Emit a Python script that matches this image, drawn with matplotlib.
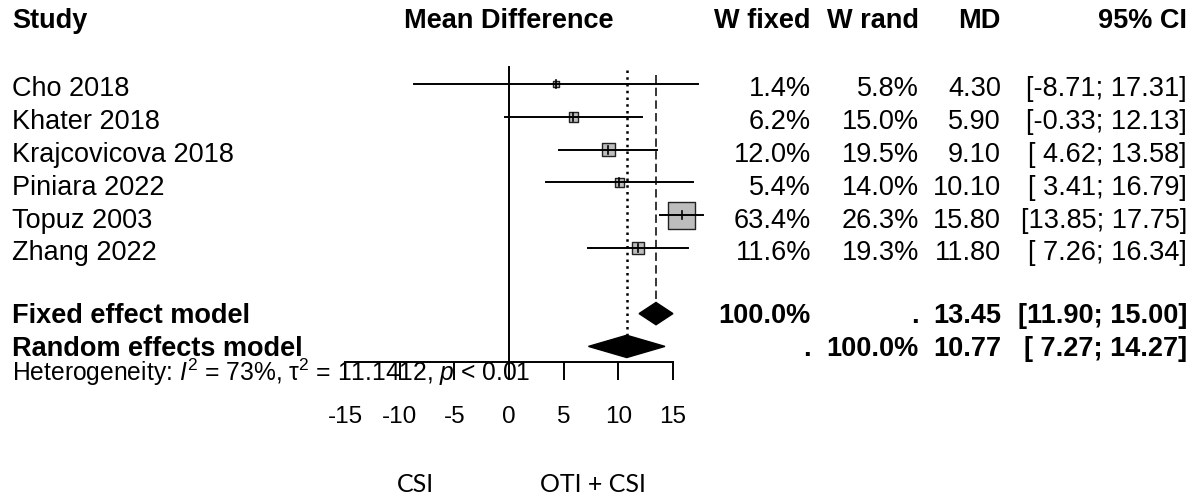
import numpy as np
import matplotlib
matplotlib.use("Agg")
import matplotlib.pyplot as plt
from matplotlib import transforms

# study level results
studies = ["Cho 2018", "Khater 2018", "Krajcovicova 2018", "Piniara 2022", "Topuz 2003", "Zhang 2022"]
md = [4.30, 5.90, 9.10, 10.10, 15.80, 11.80]
ci_lo = [-8.71, -0.33, 4.62, 3.41, 13.85, 7.26]
ci_hi = [17.31, 12.13, 13.58, 16.79, 17.75, 16.34]
w_fixed = [1.4, 6.2, 12.0, 5.4, 63.4, 11.6]
w_rand = [5.8, 15.0, 19.5, 14.0, 26.3, 19.3]

# pooled estimates
fixed_md, fixed_lo, fixed_hi = 13.45, 11.90, 15.00
rand_md, rand_lo, rand_hi = 10.77, 7.27, 14.27
i2, tau2, pval = 73, 11.1412, 0.01

ticks = [-15, -10, -5, 0, 5, 10, 15]
headers = ["W fixed", "W rand", "MD", "95% CI"]
side_labels = ["CSI", "OTI + CSI"]

W, H = 1198, 497
plt.rcParams['font.family'] = ['Liberation Sans', 'DejaVu Sans']
plt.rcParams['mathtext.fontset'] = 'custom'
plt.rcParams['mathtext.rm'] = 'Liberation Sans'
plt.rcParams['mathtext.it'] = 'Liberation Sans:italic'

fig = plt.figure(figsize=(W / 100, H / 100), dpi=100)
ax = fig.add_axes([0, 0, 1, 1])
ax.axis('off')
# 0 sits at x=509px, 10.93 px per unit; rows are 32.8 px apart, first row at 84px
ax.set_xlim(-509 / 10.93, (W - 509) / 10.93)
ax.set_ylim((H - 84) / 32.8, -84 / 32.8)
tr = transforms.blended_transform_factory(fig.transFigure, ax.transData)

def px(x):
    return x / W

fs = 19.5
rows = np.arange(len(studies))
fixed_row = len(studies) + 1
rand_row = fixed_row + 1
head_y = -1.707
col_right = [px(811), px(919), px(1001), px(1187)]

# header
ax.text(px(12), head_y, "Study", transform=tr, fontsize=fs, fontweight='bold', va='baseline')
ax.text(0, head_y, "Mean Difference", fontsize=fs, fontweight='bold', ha='center', va='baseline')
for x, h in zip(col_right, headers):
    ax.text(x, head_y, h, transform=tr, fontsize=fs, fontweight='bold', ha='right', va='baseline')

# studies, square area follows the fixed effect weight
sides = 25.5 * np.sqrt(np.array(w_fixed) / max(w_fixed)) + 1.5
ax.scatter(md, rows, s=(sides * 0.72) ** 2, marker='s', facecolor='#bdbdbd',
           edgecolor='#222222', linewidth=1.0, zorder=2)
for r, m, lo, hi, wf, wr, name in zip(rows, md, ci_lo, ci_hi, w_fixed, w_rand, studies):
    ax.plot([lo, hi], [r, r], color='black', lw=1.4, zorder=3)
    ax.plot([m, m], [r - 0.12, r + 0.12], color='black', lw=1.2, zorder=3)
    ty = r + 0.38
    ax.text(px(12), ty, name, transform=tr, fontsize=fs, va='baseline')
    vals = [f"{wf:.1f}%", f"{wr:.1f}%", f"{m:.2f}", f"[{lo:5.2f}; {hi:5.2f}]"]
    for x, v in zip(col_right, vals):
        ax.text(x, ty, v, transform=tr, fontsize=fs, ha='right', va='baseline')

# pooled diamonds
dh = 0.34
for r, m, lo, hi in [(fixed_row, fixed_md, fixed_lo, fixed_hi), (rand_row, rand_md, rand_lo, rand_hi)]:
    ax.fill([lo, m, hi, m], [r, r - dh, r, r + dh], color='black', zorder=3)

summaries = [
    (fixed_row, "Fixed effect model", ["100.0%", ".", f"{fixed_md:.2f}", f"[{fixed_lo:5.2f}; {fixed_hi:5.2f}]"]),
    (rand_row, "Random effects model", [".", "100.0%", f"{rand_md:.2f}", f"[{rand_lo:5.2f}; {rand_hi:5.2f}]"]),
]
for r, name, vals in summaries:
    ty = r + 0.29
    ax.text(px(12), ty, name, transform=tr, fontsize=fs, fontweight='bold', va='baseline')
    for x, v in zip(col_right, vals):
        ax.text(x, ty, v, transform=tr, fontsize=fs, fontweight='bold', ha='right', va='baseline')

# reference lines
axis_y = 8.48
ax.plot([0, 0], [-0.52, axis_y], color='black', lw=1.4)
ax.plot([rand_md, rand_md], [-0.42, rand_row - dh], color='black', lw=1.8,
        linestyle=(0, (1.0, 1.7)))
ax.plot([fixed_md, fixed_md], [-0.27, fixed_row - dh], color='black', lw=1.1,
        linestyle=(0, (5.5, 2.8)))

# x axis
ax.plot([ticks[0], ticks[-1]], [axis_y, axis_y], color='black', lw=1.4)
ax.vlines(ticks, axis_y, axis_y + 0.54, color='black', lw=1.4)
for t in ticks:
    ax.text(t, 10.34, str(t), fontsize=17.5, ha='center', va='baseline')

ax.text(px(12), 9.05,
        rf"Heterogeneity: $I^2$ = {i2}%, τ$^2$ = {tau2:.4f}, $p$ < {pval:.2f}",
        transform=tr, fontsize=17.7, va='baseline')

# arm labels under the axis
ax.text(px(397), 12.44, side_labels[0], transform=tr, fontsize=18, family='Lato', va='baseline')
ax.text(px(540), 12.44, side_labels[1], transform=tr, fontsize=18, family='Lato', va='baseline')

fig.savefig("out.png", dpi=100)
